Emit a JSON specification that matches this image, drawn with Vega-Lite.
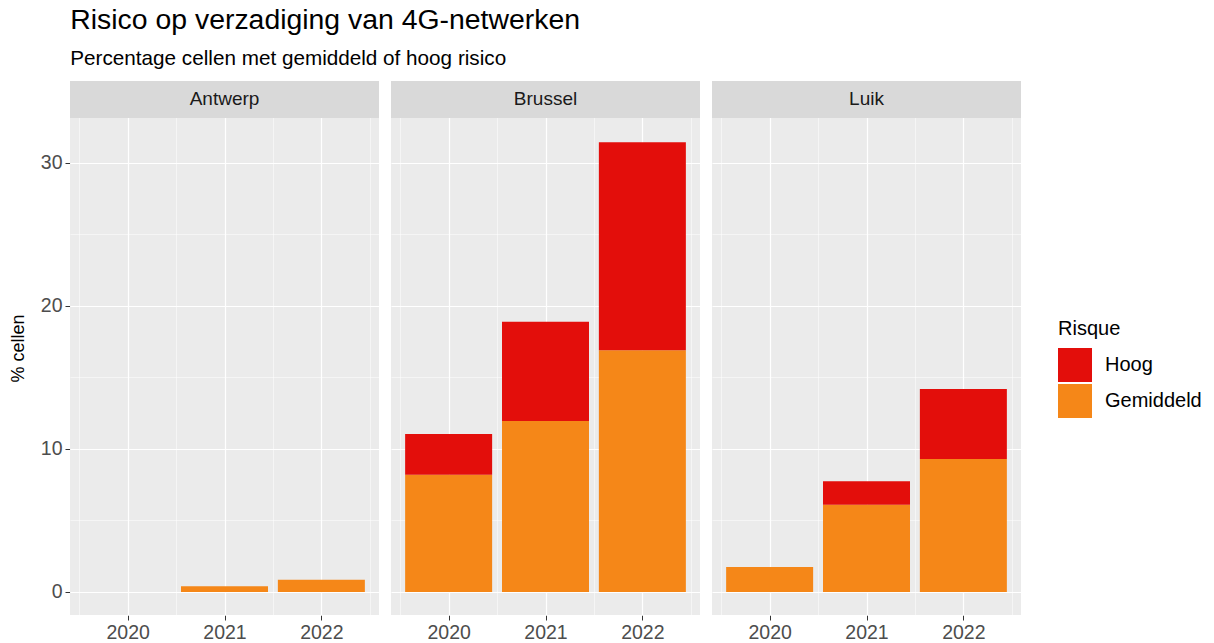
{
  "$schema": "https://vega.github.io/schema/vega-lite/v6.json",
  "padding": {"left": 9, "top": 5, "right": 5, "bottom": 0},
  "background": "white",
  "title": {
    "text": "Risico op verzadiging van 4G-netwerken",
    "subtitle": "Percentage cellen met gemiddeld of hoog risico",
    "anchor": "start",
    "dx": 61,
    "font": "Liberation Sans",
    "fontSize": 28.4,
    "fontWeight": "normal",
    "color": "black",
    "subtitleFont": "Liberation Sans",
    "subtitleFontSize": 20.7,
    "subtitleColor": "black",
    "subtitlePadding": 14,
    "offset": 11
  },
  "data": {
    "values": [
      {"city": "Antwerp", "year": 2021, "risque": "Gemiddeld", "value": 0.4},
      {"city": "Antwerp", "year": 2022, "risque": "Gemiddeld", "value": 0.85},
      {"city": "Brussel", "year": 2020, "risque": "Gemiddeld", "value": 8.2},
      {"city": "Brussel", "year": 2020, "risque": "Hoog", "value": 2.85},
      {"city": "Brussel", "year": 2021, "risque": "Gemiddeld", "value": 11.95},
      {"city": "Brussel", "year": 2021, "risque": "Hoog", "value": 6.95},
      {"city": "Brussel", "year": 2022, "risque": "Gemiddeld", "value": 16.9},
      {"city": "Brussel", "year": 2022, "risque": "Hoog", "value": 14.55},
      {"city": "Luik", "year": 2020, "risque": "Gemiddeld", "value": 1.75},
      {"city": "Luik", "year": 2021, "risque": "Gemiddeld", "value": 6.1},
      {"city": "Luik", "year": 2021, "risque": "Hoog", "value": 1.65},
      {"city": "Luik", "year": 2022, "risque": "Gemiddeld", "value": 9.3},
      {"city": "Luik", "year": 2022, "risque": "Hoog", "value": 4.9}
    ]
  },
  "facet": {
    "column": {"field": "city", "type": "nominal", "sort": ["Antwerp", "Brussel", "Luik"], "header": null}
  },
  "spacing": 12,
  "spec": {
    "width": 309,
    "height": 534,
    "view": {"fill": "#ebebeb", "stroke": null},
    "layer": [
      {
        "mark": {"type": "bar", "size": 87},
        "encoding": {
          "x": {
            "field": "year",
            "type": "quantitative",
            "scale": {"domain": [2019.405, 2022.595], "nice": false, "zero": false, "padding": 0},
            "axis": {
              "values": [2019.5, 2020, 2020.5, 2021, 2021.5, 2022, 2022.5],
              "labelExpr": "datum.value % 1 === 0 ? datum.value : ''",
              "title": null,
              "grid": true,
              "gridWidth": {"condition": {"test": "datum.value % 1 === 0", "value": 1.2}, "value": 0.5},
              "tickOpacity": {"condition": {"test": "datum.value % 1 === 0", "value": 1}, "value": 0}
            }
          },
          "y": {
            "field": "value",
            "type": "quantitative",
            "aggregate": "sum",
            "stack": "zero",
            "scale": {"domain": [-1.61, 35.73], "nice": false, "zero": false, "padding": 0},
            "axis": {
              "values": [0, 5, 10, 15, 20, 25, 30],
              "labelExpr": "datum.value % 10 === 0 ? datum.label : ''",
              "title": "% cellen",
              "grid": true,
              "gridWidth": {"condition": {"test": "datum.value % 10 === 0", "value": 1.2}, "value": 0.5},
              "tickOpacity": {"condition": {"test": "datum.value % 10 === 0", "value": 1}, "value": 0}
            }
          },
          "color": {
            "field": "risque",
            "type": "nominal",
            "title": "Risque",
            "scale": {"domain": ["Hoog", "Gemiddeld"], "range": ["#e30e0b", "#f58718"]},
            "legend": {"orient": "none", "legendX": 988, "legendY": 238}
          },
          "order": {"field": "risque", "sort": "ascending"}
        }
      },
      {
        "mark": {"type": "rect", "fill": "#d9d9d9"},
        "encoding": {
          "x": {"datum": 2019.405, "type": "quantitative"},
          "x2": {"datum": 2022.595},
          "y": {"datum": 33.15, "type": "quantitative"},
          "y2": {"datum": 35.73}
        }
      },
      {
        "transform": [{"filter": "datum.year === 2022 && datum.risque === 'Gemiddeld'"}],
        "mark": {"type": "text", "font": "Liberation Sans", "fontSize": 19, "color": "#1a1a1a", "baseline": "middle"},
        "encoding": {
          "x": {"datum": 2021, "type": "quantitative"},
          "y": {"datum": 34.44, "type": "quantitative"},
          "text": {"field": "city", "type": "nominal"}
        }
      }
    ]
  },
  "config": {
    "font": "Liberation Sans",
    "axis": {
      "labelFont": "Liberation Sans",
      "labelFontSize": 19.5,
      "labelColor": "#4d4d4d",
      "tickColor": "#333333",
      "tickSize": 5,
      "labelPadding": 3,
      "domain": false,
      "gridColor": "#ffffff",
      "titleFont": "Liberation Sans",
      "titleFontSize": 18,
      "titleFontWeight": "normal",
      "titleColor": "black",
      "titlePadding": 13
    },
    "legend": {
      "titleFont": "Liberation Sans",
      "titleFontSize": 20,
      "titleFontWeight": "normal",
      "titleColor": "black",
      "labelFont": "Liberation Sans",
      "labelFontSize": 20,
      "labelColor": "black",
      "symbolType": "square",
      "symbolSize": 1156,
      "symbolStrokeWidth": 0,
      "symbolOpacity": 1,
      "labelOffset": 13,
      "rowPadding": 2,
      "titlePadding": 9
    }
  }
}
